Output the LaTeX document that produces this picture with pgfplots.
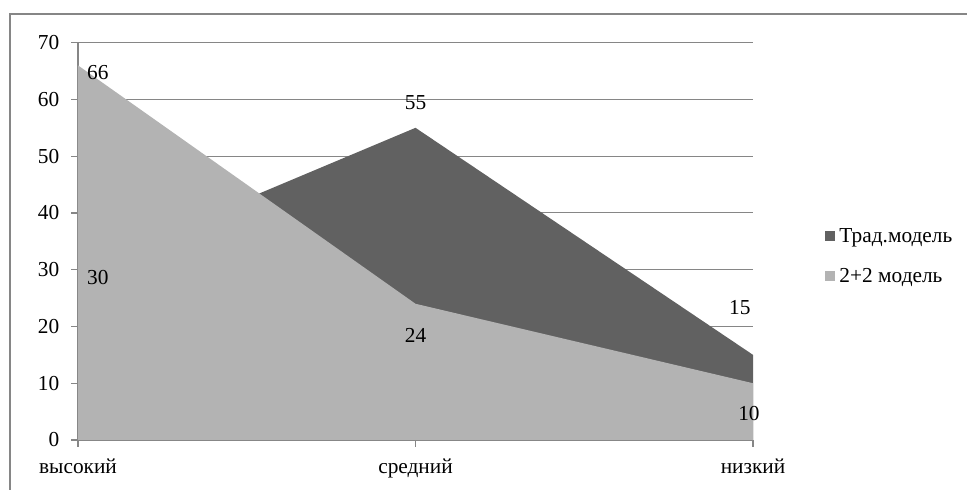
\documentclass[border=0pt]{standalone}
\usepackage{pgfplots}
\pgfplotsset{compat=1.18}
\usepackage{fontspec}
\setmainfont{Liberation Serif}

\definecolor{tradc}{RGB}{97,97,97}
\definecolor{twoc}{RGB}{179,179,179}
\definecolor{linec}{RGB}{134,134,134}

\newcommand{\chartfont}{\fontsize{16}{18}\selectfont}

\begin{document}
\begin{tikzpicture}[x=1pt,y=1pt]
\useasboundingbox (-58.5,-36.75) rectangle (666.75,330);
% chart frame (only top and left edges fall inside the picture)
\draw[linec, line width=1.1pt] (-51,-45) -- (-51,319.5) -- (675,319.5);

\begin{axis}[
    at={(0,0)}, anchor=south west,
    scale only axis,
    width=506.25pt, height=298pt,
    clip=false,
    xmin=0, xmax=2,
    ymin=0, ymax=70,
    xtick={0,1,2},
    xticklabels={высокий,средний,низкий},
    ytick={0,10,...,70},
    axis x line*=bottom,
    axis y line*=left,
    axis line style={linec, line width=0.9pt},
    tick style={linec, line width=0.9pt},
    tick align=outside,
    major tick length=5pt,
    ymajorgrids,
    grid style={linec, line width=0.75pt},
    tick label style={font=\chartfont},
    yticklabel style={xshift=-5.5pt},
    xticklabel style={yshift=-5.5pt},
    /pgf/number format/assume math mode=true,
    legend style={
        draw=none, fill=none,
        at={(1.107,0.462)}, anchor=west,
        inner sep=0pt,
        row sep=12pt,
        font=\chartfont,
        nodes={inner sep=3pt},
    },
    legend cell align=left,
    legend image code/.code={\fill[#1] (0pt,-3.75pt) rectangle (7.5pt,3.75pt);},
]

\addplot[fill=tradc, draw=none] coordinates {(0,30) (1,55) (2,15)} \closedcycle;
\addlegendentry{Трад.модель}

\addplot[fill=twoc, draw=none] coordinates {(0,66) (1,24) (2,10)} \closedcycle;
\addlegendentry{2+2 модель}

% data labels
\begin{scope}[every node/.style={font=\chartfont}]
\node at (axis cs:0.059,64.8) {66};
\node at (axis cs:0.059,28.7) {30};
\node at (axis cs:1.0,59.4) {55};
\node at (axis cs:1.0,18.5) {24};
\node at (axis cs:1.961,23.4) {15};
\node at (axis cs:1.988,4.6) {10};
\end{scope}

\end{axis}
\end{tikzpicture}
\end{document}
